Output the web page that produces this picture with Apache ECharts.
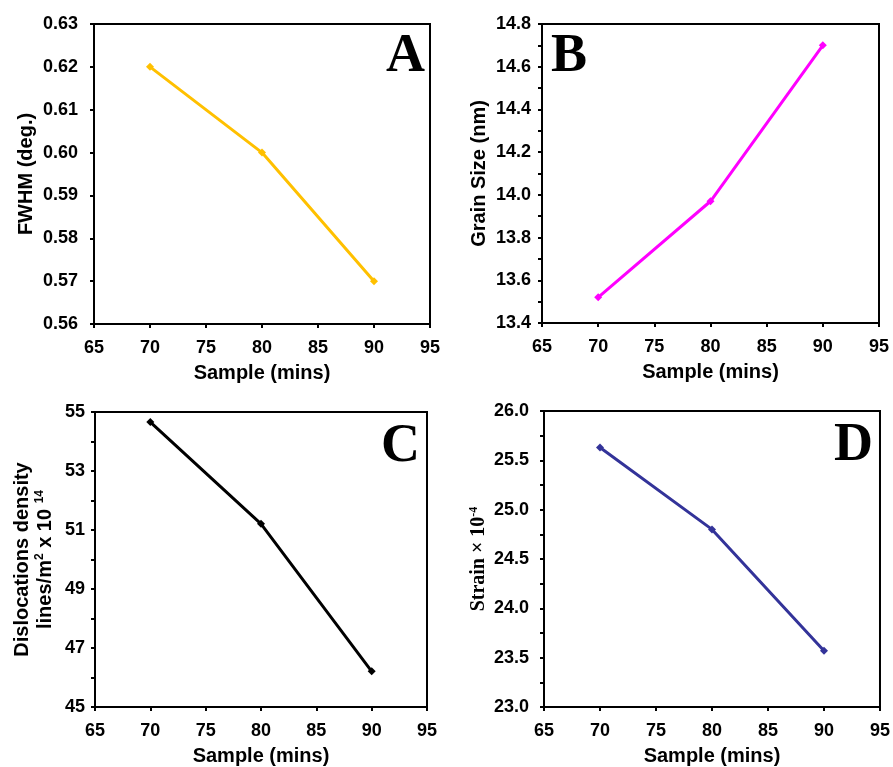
<!DOCTYPE html>
<html>
<head>
<meta charset="utf-8">
<script src="https://cdn.jsdelivr.net/npm/echarts@6/dist/echarts.min.js"></script>
<style>
html,body{margin:0;padding:0;background:#fff;}
#main{width:893px;height:767px;}
</style>
</head>
<body>
<div id="main"></div>
<script>
var samples = [70, 80, 90];
var fwhm = [0.62, 0.60, 0.57];
var grainSize = [13.52, 13.97, 14.70];
var dislocation = [54.66, 51.21, 46.21];
var strain = [25.63, 24.80, 23.57];
var xTitle = 'Sample (mins)';
var panelLetters = ['A', 'B', 'C', 'D'];

var chart = echarts.init(document.getElementById('main'), null, {renderer: 'canvas'});

var sans = 'Liberation Sans, Arial, sans-serif';
var serif = 'Liberation Serif, Times New Roman, serif';

var grids = [
  {left: 94, top: 24, width: 336, height: 300},
  {left: 542, top: 24, width: 337, height: 299},
  {left: 95, top: 412, width: 332, height: 297},
  {left: 544, top: 411, width: 336, height: 300}
];

function xAxisFor(i) {
  return {
    gridIndex: i, type: 'value', min: 65, max: 95, interval: 5,
    name: xTitle, nameLocation: 'middle', nameGap: 39,
    nameTextStyle: {fontFamily: sans, fontWeight: 'bold', fontSize: 20, color: '#000'},
    axisLine: {show: true, onZero: false, lineStyle: {color: '#000', width: 2}},
    axisTick: {show: true, inside: false, length: 4, lineStyle: {color: '#000', width: 2}},
    axisLabel: {fontFamily: sans, fontWeight: 'bold', fontSize: 18, color: '#000', margin: 15},
    splitLine: {show: false}
  };
}

function yAxisFor(i, min, max, interval, decimals, name, nameGap, minor, nameStyle, margin) {
  return {
    gridIndex: i, type: 'value', min: min, max: max, interval: interval,
    name: name, nameLocation: 'middle', nameGap: nameGap, nameRotate: 90,
    nameTextStyle: nameStyle,
    axisLine: {show: true, onZero: false, lineStyle: {color: '#000', width: 2}},
    axisTick: {show: true, inside: false, length: 4, lineStyle: {color: '#000', width: 2}},
    minorTick: {show: minor, splitNumber: 2, length: 4, lineStyle: {color: '#000', width: 2}},
    axisLabel: {fontFamily: sans, fontWeight: 'bold', fontSize: 18, color: '#000', margin: margin,
      formatter: function (v) { return v.toFixed(decimals); }},
    splitLine: {show: false}
  };
}

var nameStyleSans = {fontFamily: sans, fontWeight: 'bold', fontSize: 20, color: '#000'};

function series(i, values, color) {
  return {
    type: 'line', xAxisIndex: i, yAxisIndex: i,
    data: samples.map(function (s, k) { return [s, values[k]]; }),
    symbol: 'diamond', symbolSize: 8, showSymbol: true,
    lineStyle: {color: color, width: 3},
    itemStyle: {color: color},
    animation: false
  };
}

var letterPos = [
  {x: 425, y: 30},
  {x: 551, y: 30},
  {x: 420, y: 420},
  {x: 873, y: 419}
];

chart.setOption({
  backgroundColor: '#fff',
  animation: false,
  grid: grids.map(function (g) {
    return Object.assign({show: true, borderColor: '#000', borderWidth: 2, backgroundColor: 'transparent'}, g);
  }),
  xAxis: [0, 1, 2, 3].map(xAxisFor),
  yAxis: [
    yAxisFor(0, 0.56, 0.63, 0.01, 2, 'FWHM (deg.)', 58, false, nameStyleSans, 16),
    yAxisFor(1, 13.4, 14.8, 0.2, 1, 'Grain Size (nm)', 53, true, nameStyleSans, 11),
    yAxisFor(2, 45, 55, 2, 0, '{a|Dislocations density}\n{a|lines/m}{s|2}{a| x 10 }{s|14}', 38, true, {
      fontFamily: sans, fontWeight: 'bold', fontSize: 20, color: '#000', lineHeight: 23,
      rich: {
        a: {fontFamily: sans, fontWeight: 'bold', fontSize: 20, color: '#000', lineHeight: 23},
        s: {fontFamily: sans, fontWeight: 'bold', fontSize: 12, color: '#000', lineHeight: 23, verticalAlign: 'top', padding: [0, 0, 8, 0]}
      }
    }, 10),
    yAxisFor(3, 23.0, 26.0, 0.5, 1, '{a|Strain × 10}{s|-4}', 54, true, {
      fontFamily: serif, fontWeight: 'bold', fontSize: 20, color: '#000',
      rich: {
        a: {fontFamily: serif, fontWeight: 'bold', fontSize: 20, color: '#000'},
        s: {fontFamily: serif, fontWeight: 'bold', fontSize: 12, color: '#000', padding: [0, 0, 10, 0]}
      }
    }, 15)
  ],
  series: [
    series(0, fwhm, '#FFC000'),
    series(1, grainSize, '#FF00FF'),
    series(2, dislocation, '#000000'),
    series(3, strain, '#333399')
  ],
  graphic: panelLetters.map(function (L, i) {
    var p = letterPos[i];
    return {
      type: 'text', x: p.x, y: p.y, z: 100,
      style: {
        text: L, fontFamily: serif, fontWeight: 'bold', fontSize: 54, fill: '#000',
        align: i === 1 ? 'left' : 'right', verticalAlign: 'top'
      }
    };
  })
});
</script>
</body>
</html>
